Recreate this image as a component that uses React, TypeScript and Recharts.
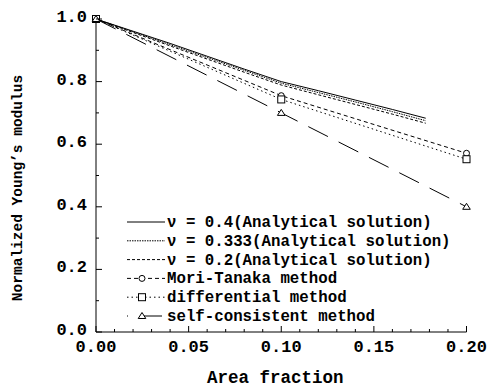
import { LineChart, Line, XAxis, YAxis, Legend } from "recharts";

document.body.style.margin = "0";

const FONT = "'Liberation Mono', 'DejaVu Sans Mono', monospace";

// x ticks (minor every 0.01, labelled every 0.05)
const xTicks = [
  0, 0.01, 0.02, 0.03, 0.04, 0.05, 0.06, 0.07, 0.08, 0.09, 0.1,
  0.11, 0.12, 0.13, 0.14, 0.15, 0.16, 0.17, 0.18, 0.19, 0.2,
];
const xMajor = [0, 0.05, 0.1, 0.15, 0.2];
const yTicks = [0, 0.1, 0.2, 0.3, 0.4, 0.5, 0.6, 0.7, 0.8, 0.9, 1.0];
const yMajor = [0, 0.2, 0.4, 0.6, 0.8, 1.0];

// analytical solutions
const analyticX = [0, 0.02, 0.04, 0.06, 0.08, 0.1, 0.12, 0.14, 0.16, 0.178];
const nu04 = [1.0, 0.961, 0.922, 0.881, 0.84, 0.8, 0.771, 0.741, 0.711, 0.683];
const nu0333 = [1.0, 0.959, 0.918, 0.877, 0.836, 0.795, 0.765, 0.735, 0.704, 0.675];
const nu02 = [1.0, 0.957, 0.914, 0.872, 0.83, 0.789, 0.758, 0.727, 0.696, 0.667];

// numerical methods
const methodX = [0, 0.1, 0.2];
const moriTanaka = [1.0, 0.755, 0.571];
const differential = [1.0, 0.743, 0.552];
const selfConsistent = [1.0, 0.7, 0.4];

const legendNames = [
  "ν = 0.4(Analytical solution)",
  "ν = 0.333(Analytical solution)",
  "ν = 0.2(Analytical solution)",
  "Mori-Tanaka method",
  "differential method",
  "self-consistent method",
];

const toPts = (xs: number[], ys: number[]) => xs.map((x, i) => ({ x, y: ys[i] }));

const isMajor = (v: number, majors: number[]) => majors.some((m) => Math.abs(m - v) < 1e-9);

type Marker = "none" | "circle" | "square" | "triangle";

function drawMarker(kind: Marker, cx: number, cy: number, key?: number | string) {
  if (kind === "circle")
    return <circle key={key} cx={cx} cy={cy} r={3} fill="#fff" stroke="#000" strokeWidth={1} />;
  if (kind === "square")
    return <rect key={key} x={cx - 3.5} y={cy - 3.5} width={7} height={7} fill="#fff" stroke="#000" strokeWidth={1} />;
  if (kind === "triangle")
    return (
      <polygon
        key={key}
        points={`${cx},${cy - 3.5} ${cx - 3.8},${cy + 2.5} ${cx + 3.8},${cy + 2.5}`}
        fill="#fff"
        stroke="#000"
        strokeWidth={1}
      />
    );
  return <g key={key} />;
}

const series = [
  { name: legendNames[0], data: toPts(analyticX, nu04), dash: undefined, marker: "none" as Marker },
  { name: legendNames[1], data: toPts(analyticX, nu0333), dash: "1.5 1", marker: "none" as Marker },
  { name: legendNames[2], data: toPts(analyticX, nu02), dash: "3 2", marker: "none" as Marker },
  { name: legendNames[3], data: toPts(methodX, moriTanaka), dash: "4 3", marker: "circle" as Marker },
  { name: legendNames[4], data: toPts(methodX, differential), dash: "1.5 3", marker: "square" as Marker },
  { name: legendNames[5], data: toPts(methodX, selfConsistent), dash: "22 12", marker: "triangle" as Marker },
];

function BottomTick({ x, y, payload }: any) {
  const major = isMajor(payload.value, xMajor);
  return (
    <g>
      <line x1={x} x2={x} y1={y} y2={y - (major ? 6 : 3)} stroke="#000" />
      {major && (
        <text x={x} y={y + 20} textAnchor="middle" fontFamily={FONT} fontWeight="bold" fontSize={17} fill="#000">
          {payload.value.toFixed(2)}
        </text>
      )}
    </g>
  );
}

function TopTick({ x, y, payload }: any) {
  const major = isMajor(payload.value, xMajor);
  return <line x1={x} x2={x} y1={y} y2={y + (major ? 6 : 3)} stroke="#000" />;
}

function LeftTick({ x, y, payload }: any) {
  const major = isMajor(payload.value, yMajor);
  return (
    <g>
      <line x1={x} x2={x + (major ? 6 : 3)} y1={y} y2={y} stroke="#000" />
      {major && (
        <text x={x - 9} y={y + 3} textAnchor="end" fontFamily={FONT} fontWeight="bold" fontSize={17} fill="#000">
          {payload.value.toFixed(1)}
        </text>
      )}
    </g>
  );
}

function RightTick({ x, y, payload }: any) {
  const major = isMajor(payload.value, yMajor);
  return <line x1={x} x2={x - (major ? 6 : 3)} y1={y} y2={y} stroke="#000" />;
}

function LegendBox() {
  const rowH = 18.8;
  return (
    <svg width={340} height={120} style={{ display: "block" }}>
      {series.map((s, i) => {
        const cy = 10 + i * rowH;
        return (
          <g key={s.name}>
            <line
              x1={1}
              x2={39}
              y1={cy}
              y2={cy}
              stroke="#000"
              strokeWidth={1}
              strokeDasharray={s.dash}
              strokeDashoffset={s.marker === "triangle" ? 21 : 0}
            />
            {s.marker !== "none" && drawMarker(s.marker, 16, cy)}
            <text x={41} y={cy + 5} fontFamily={FONT} fontWeight="bold" fontSize={15.75} fill="#000">
              {s.name}
            </text>
          </g>
        );
      })}
    </svg>
  );
}

export default function App() {
  return (
    <div style={{ width: 487, height: 388, background: "#fff" }}>
      <LineChart width={487} height={388} margin={{ top: 19, right: 20.5, bottom: 0, left: 0 }}>
        <XAxis
          dataKey="x"
          type="number"
          domain={[0, 0.2]}
          ticks={xTicks}
          interval={0}
          height={56}
          tickSize={0}
          tickMargin={0}
          tickLine={false}
          axisLine={{ stroke: "#000" }}
          tick={<BottomTick />}
          label={{
            content: ({ viewBox }: any) => (
              <text
                x={viewBox.x + viewBox.width / 2 - 6}
                y={viewBox.y + 51}
                textAnchor="middle"
                fontFamily={FONT}
                fontWeight="bold"
                fontSize={17.5}
                fill="#000"
              >
                Area fraction
              </text>
            ),
          }}
        />
        <XAxis
          xAxisId="top"
          orientation="top"
          dataKey="x"
          type="number"
          domain={[0, 0.2]}
          ticks={xTicks}
          interval={0}
          height={0}
          tickSize={0}
          tickMargin={0}
          tickLine={false}
          axisLine={{ stroke: "#000" }}
          tick={<TopTick />}
        />
        <YAxis
          type="number"
          domain={[0, 1]}
          ticks={yTicks}
          interval={0}
          width={96}
          tickSize={0}
          tickMargin={0}
          tickLine={false}
          axisLine={{ stroke: "#000" }}
          tick={<LeftTick />}
          label={{
            content: ({ viewBox }: any) => {
              const cx = 22;
              const cy = viewBox.y + viewBox.height / 2 + 12.5;
              return (
                <text
                  x={cx}
                  y={cy}
                  transform={`rotate(-90, ${cx}, ${cy})`}
                  textAnchor="middle"
                  fontFamily={FONT}
                  fontWeight="bold"
                  fontSize={14.5}
                  fill="#000"
                >
                  Normalized Young’s modulus
                </text>
              );
            },
          }}
        />
        <YAxis
          yAxisId="right"
          orientation="right"
          type="number"
          domain={[0, 1]}
          ticks={yTicks}
          interval={0}
          width={0}
          tickSize={0}
          tickMargin={0}
          tickLine={false}
          axisLine={{ stroke: "#000" }}
          tick={<RightTick />}
        />
        {series.map((s) => (
          <Line
            key={s.name}
            data={s.data}
            dataKey="y"
            name={s.name}
            type="linear"
            stroke="#000"
            strokeWidth={1}
            strokeDasharray={s.dash}
            isAnimationActive={false}
            dot={
              s.marker === "none"
                ? false
                : (p: any) => drawMarker(s.marker, p.cx, p.cy, p.index)
            }
            activeDot={false}
          />
        ))}
        <Legend
          layout="vertical"
          align="center"
          verticalAlign="middle"
          wrapperStyle={{ left: 126, top: 212, width: 340 }}
          content={() => <LegendBox />}
        />
      </LineChart>
    </div>
  );
}
